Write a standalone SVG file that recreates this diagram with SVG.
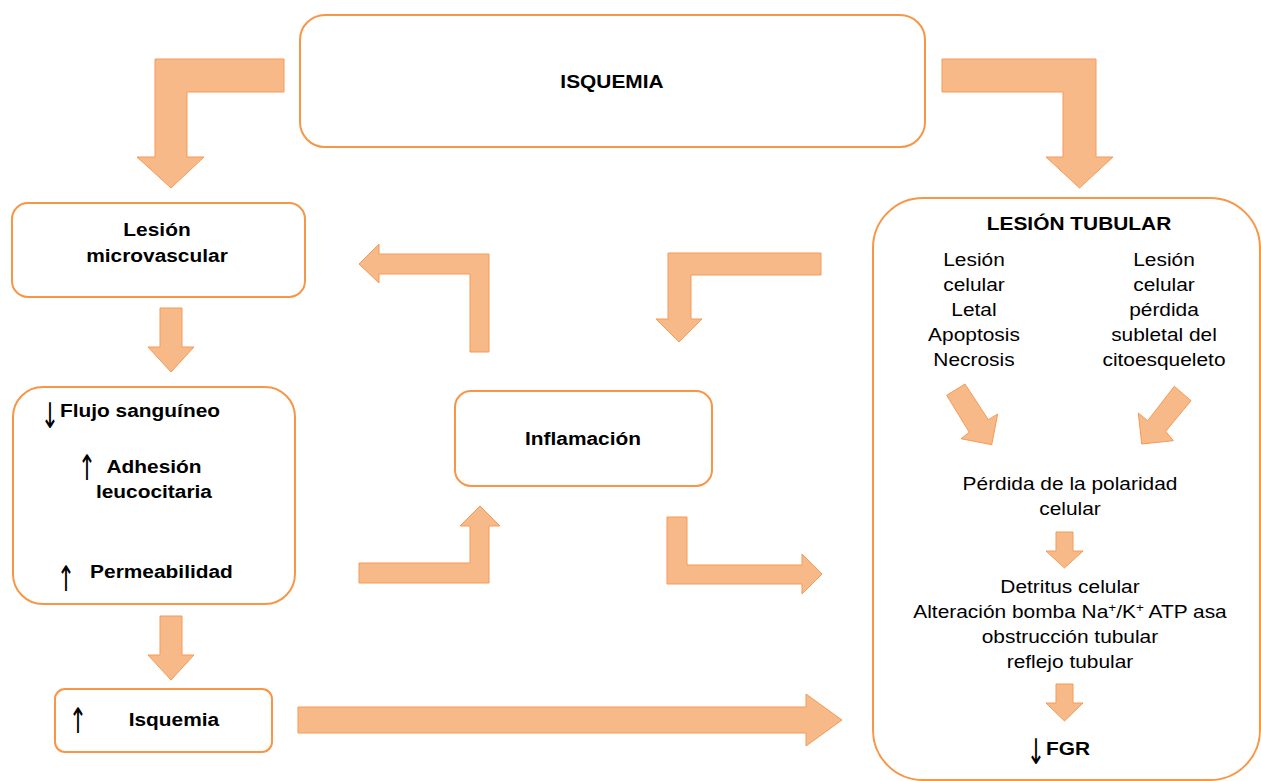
<svg xmlns="http://www.w3.org/2000/svg" width="1261" height="781" viewBox="0 0 1261 781">
<style>
.box{fill:#fff;stroke:#F79646;stroke-width:2}
.arr{fill:#F8B989;stroke:#F59A55;stroke-width:1}
text{font-family:"Liberation Sans",Arial,sans-serif;font-size:18.5px;fill:#000;text-anchor:middle}
.b{font-weight:bold}
.s{transform-box:fill-box;transform-origin:center;transform:scaleX(1.13)}
.g{font-family:"DejaVu Sans",sans-serif;font-size:26px;font-weight:normal;transform-box:fill-box;transform-origin:center;transform:scale(0.85,1.35)}
</style>
<rect width="1261" height="781" fill="#fff"/>
<g id="isquemia-top">
<rect class="box" x="300" y="15" width="625" height="132" rx="25"/>
<text class="b s" x="612" y="88">ISQUEMIA</text>
</g>
<g id="lesion-microvascular">
<rect class="box" x="12" y="203" width="293" height="94" rx="16"/>
<text class="b s" x="157" y="236">Lesión</text>
<text class="b s" x="157" y="262">microvascular</text>
</g>
<g id="efectos">
<rect class="box" x="13" y="387" width="282" height="217" rx="30"/>
<text class="g" x="50" y="425">↓</text>
<text class="b s" x="140" y="417">Flujo sanguíneo</text>
<text class="g" x="87" y="477">↑</text>
<text class="b s" x="154" y="473">Adhesión</text>
<text class="b s" x="154" y="498">leucocitaria</text>
<text class="g" x="66" y="588">↑</text>
<text class="b s" x="161.5" y="578">Permeabilidad</text>
</g>
<g id="inflamacion">
<rect class="box" x="455" y="391" width="257" height="95" rx="16"/>
<text class="b s" x="583" y="445">Inflamación</text>
</g>
<g id="isquemia-bottom">
<rect class="box" x="55" y="689" width="217" height="63" rx="10"/>
<text class="g" x="78" y="730">↑</text>
<text class="b s" x="174" y="726">Isquemia</text>
</g>
<g id="lesion-tubular">
<rect class="box" x="873" y="198" width="387" height="582" rx="50"/>
<text class="b s" x="1079" y="230">LESIÓN TUBULAR</text>
<text class="s" x="974" y="266">Lesión</text>
<text class="s" x="974" y="291">celular</text>
<text class="s" x="974" y="316">Letal</text>
<text class="s" x="974" y="341">Apoptosis</text>
<text class="s" x="974" y="366">Necrosis</text>
<text class="s" x="1164" y="266">Lesión</text>
<text class="s" x="1164" y="291">celular</text>
<text class="s" x="1164" y="316">pérdida</text>
<text class="s" x="1164" y="341">subletal del</text>
<text class="s" x="1164" y="366">citoesqueleto</text>
<text class="s" x="1070" y="490">Pérdida de la polaridad</text>
<text class="s" x="1070" y="515">celular</text>
<text class="s" x="1070" y="593">Detritus celular</text>
<text class="s" x="1070" y="618">Alteración bomba Na<tspan font-size="12" dy="-6">+</tspan><tspan dy="6">/K</tspan><tspan font-size="12" dy="-6">+</tspan><tspan dy="6"> ATP asa</tspan></text>
<text class="s" x="1070" y="643">obstrucción tubular</text>
<text class="s" x="1070" y="668">reflejo tubular</text>
<text class="g" x="1036" y="761">↓</text>
<text class="b s" x="1068" y="755">FGR</text>
</g>
<g id="connectors">
<polygon class="arr" points="284,59 155,59 155,157 137,157 171,188 204,157 187,157 187,92 284,92"/>
<polygon class="arr" points="942,59 1096,59 1096,157 1113,157 1079.5,188 1046,157 1063,157 1063,92 942,92"/>
<polygon class="arr" points="489,352 489,254 379,254 379,244 359,264 379,283 379,274 470,274 470,352"/>
<polygon class="arr" points="821,253 668,253 668,319 656,319 679,342 702,319 691,319 691,275 821,275"/>
<polygon class="arr" points="359,563 470,563 470,526 460,526 480,506 500,526 489,526 489,583 359,583"/>
<polygon class="arr" points="667,517 687,517 687,565 802,565 802,554 822,574 802,594 802,584 667,584"/>
<polygon class="arr" points="298,707 806,707 806,694 842,720 806,746 806,733 298,733"/>
<polygon class="arr" points="160,308 182,308 182,347 194,347 171,372 148,347 160,347"/>
<polygon class="arr" points="160,616 182,616 182,655 194,655 171,680 148,655 160,655"/>
<polygon class="arr" points="946.7,395.3 965,384 988.3,419.7 997.7,414 991.7,444.7 961,438.7 969.3,432.3"/>
<polygon class="arr" points="1174.3,386.3 1191,400.7 1165.7,431.3 1173.3,440.7 1141.7,444 1138.3,413 1147.7,420.7"/>
<polygon class="arr" points="1056,532 1073,532 1073,551 1083,551 1064.5,568 1046,551 1056,551"/>
<polygon class="arr" points="1056,684 1073,684 1073,703 1083,703 1064.5,721 1046,703 1056,703"/>
</g>
</svg>
